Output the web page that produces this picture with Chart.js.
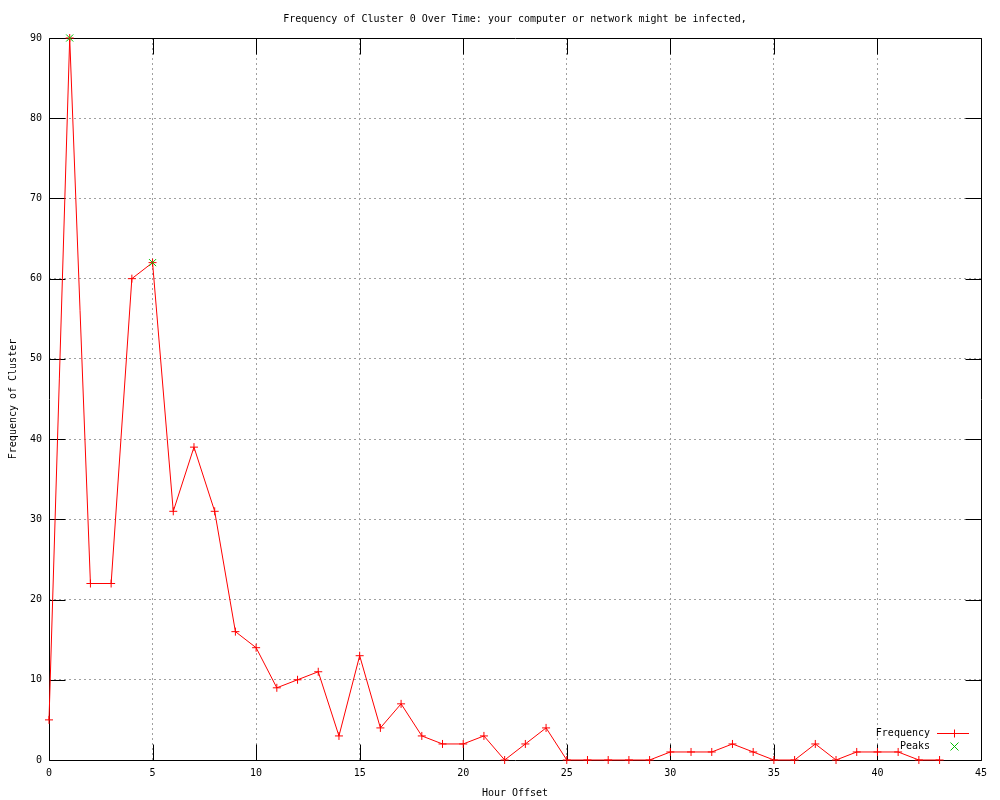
<!DOCTYPE html>
<html>
<head>
<meta charset="utf-8">
<title>Frequency of Cluster 0 Over Time</title>
<script src="https://cdn.jsdelivr.net/npm/chart.js@4.4.0/dist/chart.umd.min.js"></script>
<style>
  html, body { margin: 0; padding: 0; background: #fff; }
</style>
</head>
<body>
<canvas id="clusterChart" width="1000" height="800"></canvas>
<script>
// Données
const hours = [0, 1, 2, 3, 4, 5, 6, 7, 8, 9, 10, 11, 12, 13, 14, 15, 16, 17, 18, 19, 20, 21,
               22, 23, 24, 25, 26, 27, 28, 29, 30, 31, 32, 33, 34, 35, 36, 37, 38, 39, 40, 41, 42, 43];
const frequency = [5, 90, 22, 22, 60, 62, 31, 39, 31, 16, 14, 9, 10, 11, 3, 13, 4, 7, 3, 2, 2, 3,
                   0, 2, 4, 0, 0, 0, 0, 0, 1, 1, 1, 2, 1, 0, 0, 2, 0, 1, 1, 1, 0, 0];
const peakHours = [1, 5];
const peakValues = [90, 62];
const xTickValues = [0, 5, 10, 15, 20, 25, 30, 35, 40, 45];
const yTickValues = [0, 10, 20, 30, 40, 50, 60, 70, 80, 90];

const FONT = '"DejaVu Sans Mono", "Liberation Mono", monospace';

// Cadre noir + graduations vers l'intérieur (style gnuplot)
const cadreGnuplot = {
    id: 'cadreGnuplot',
    beforeDatasetsDraw(chart) {
        const { ctx, chartArea: a, scales: { x, y } } = chart;
        const L = Math.round(a.left) + 0.5, R = Math.round(a.right) + 0.5;
        const T = Math.round(a.top) + 0.5, B = Math.round(a.bottom) + 0.5;
        const len = 16;
        ctx.save();
        ctx.strokeStyle = '#000';
        ctx.lineWidth = 1;
        ctx.beginPath();
        ctx.rect(L, T, R - L, B - T);
        x.ticks.forEach(t => {
            const px = Math.round(x.getPixelForValue(t.value)) + 0.5;
            ctx.moveTo(px, B); ctx.lineTo(px, B - len);
            ctx.moveTo(px, T); ctx.lineTo(px, T + len);
        });
        y.ticks.forEach(t => {
            const py = Math.round(y.getPixelForValue(t.value)) + 0.5;
            ctx.moveTo(L, py); ctx.lineTo(L + len, py);
            ctx.moveTo(R, py); ctx.lineTo(R - len, py);
        });
        ctx.stroke();
        ctx.restore();
    }
};

// Légende dans le coin bas-droit
const legendeInterne = {
    id: 'legendeInterne',
    afterDatasetsDraw(chart) {
        const { ctx, chartArea: a } = chart;
        ctx.save();
        ctx.font = '10px ' + FONT;
        ctx.textAlign = 'right';
        ctx.textBaseline = 'middle';
        chart.data.datasets.forEach((ds, i) => {
            const yy = Math.round(a.bottom - 27 + i * 13) + 0.5;
            const xm = Math.round(a.right - 27) + 0.5;
            ctx.fillStyle = '#000';
            ctx.fillText(ds.label, a.right - 51, yy);
            ctx.strokeStyle = ds.borderColor;
            ctx.lineWidth = 1;
            ctx.beginPath();
            if (ds.showLine !== false) {
                ctx.moveTo(a.right - 44, yy); ctx.lineTo(a.right - 12, yy);
                ctx.moveTo(xm, yy - 4); ctx.lineTo(xm, yy + 4);
            } else {
                ctx.moveTo(xm - 4, yy - 4); ctx.lineTo(xm + 4, yy + 4);
                ctx.moveTo(xm - 4, yy + 4); ctx.lineTo(xm + 4, yy - 4);
            }
            ctx.stroke();
        });
        ctx.restore();
    }
};

const gridColor = ctx => (ctx.tick && (ctx.tick.value === ctx.scale.min || ctx.tick.value === ctx.scale.max))
    ? 'rgba(0,0,0,0)' : '#a0a0a0';

new Chart(document.getElementById('clusterChart'), {
    type: 'line',
    data: {
        datasets: [{
            label: 'Frequency',
            data: hours.map((h, i) => ({ x: h, y: frequency[i] })),
            borderColor: '#ff0000',
            borderWidth: 1,
            pointStyle: 'cross',
            pointRadius: 4,
            pointBorderColor: '#ff0000',
            pointBorderWidth: 1,
            tension: 0,
            clip: false,
            order: 2
        }, {
            label: 'Peaks',
            data: peakHours.map((h, i) => ({ x: h, y: peakValues[i] })),
            borderColor: '#00c000',
            showLine: false,
            pointStyle: 'crossRot',
            pointRadius: 5,
            pointBorderColor: '#00c000',
            pointBorderWidth: 1,
            clip: false,
            order: 1
        }]
    },
    options: {
        responsive: false,
        animation: false,
        devicePixelRatio: 1,
        events: [],
        layout: { padding: { left: 0, right: 19, top: 0, bottom: 0 } },
        plugins: {
            legend: { display: false },
            tooltip: { enabled: false },
            title: {
                display: true,
                fullSize: false,
                text: 'Frequency of Cluster 0 Over Time: your computer or network might be infected,',
                color: '#000',
                font: { family: FONT, size: 10, weight: 'normal' },
                padding: { top: 13, bottom: 13 }
            }
        },
        scales: {
            x: {
                type: 'linear',
                min: 0,
                max: 45,
                afterBuildTicks: s => { s.ticks = xTickValues.map(v => ({ value: v })); },
                afterFit: s => { s.height = 40; },
                ticks: { color: '#000', font: { family: FONT, size: 10 }, padding: 7, maxRotation: 0 },
                grid: { color: gridColor, lineWidth: 1, drawTicks: false },
                border: { display: false, dash: [2, 3] },
                title: {
                    display: true,
                    text: 'Hour Offset',
                    color: '#000',
                    font: { family: FONT, size: 10 },
                    padding: { top: 0, bottom: 1 }
                }
            },
            y: {
                type: 'linear',
                min: 0,
                max: 90,
                afterBuildTicks: s => { s.ticks = yTickValues.map(v => ({ value: v })); },
                afterFit: s => { s.width = 49; },
                ticks: { color: '#000', font: { family: FONT, size: 10 }, padding: 7 },
                grid: { color: gridColor, lineWidth: 1, drawTicks: false },
                border: { display: false, dash: [2, 3] },
                title: {
                    display: true,
                    text: 'Frequency of Cluster',
                    color: '#000',
                    font: { family: FONT, size: 10 },
                    padding: { top: 7, bottom: 0 }
                }
            }
        }
    },
    plugins: [cadreGnuplot, legendeInterne]
});
</script>
</body>
</html>
